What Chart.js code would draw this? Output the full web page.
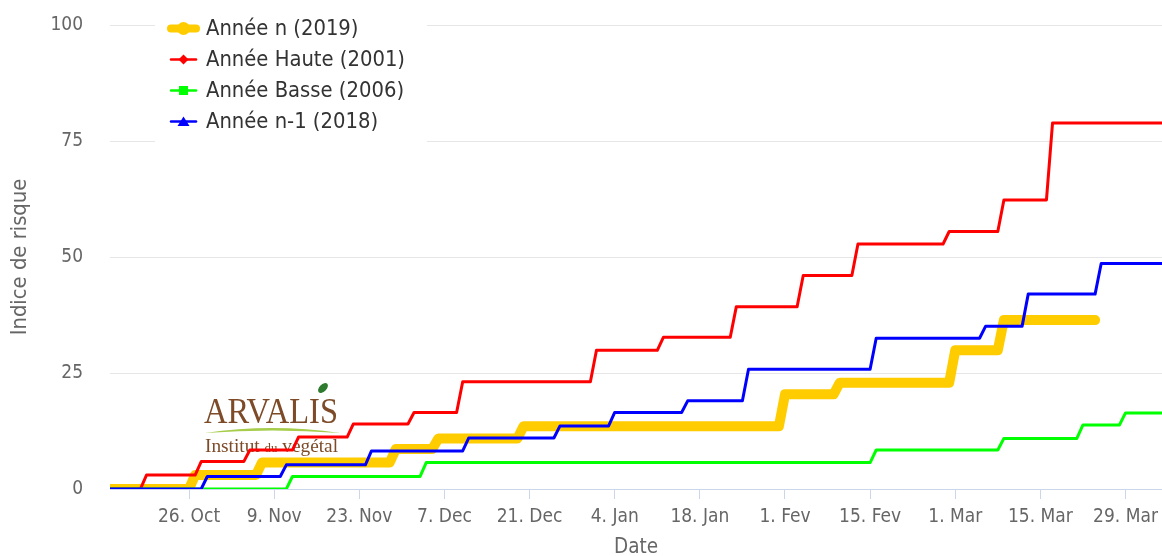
<!DOCTYPE html>
<html>
<head>
<meta charset="utf-8">
<script src="https://cdn.jsdelivr.net/npm/chart.js@4.4.1/dist/chart.umd.min.js"></script>
<style>
  html, body { margin: 0; padding: 0; background: #fff; }
  #wrap { width: 1162px; height: 556px; position: relative; }
</style>
</head>
<body>
<div id="wrap"><canvas id="chart"></canvas></div>
<script>
// axis range
const startDate = '2018-10-13';
const endDate = '2019-04-04';

// each series: dates where a new step starts, value held from that date
const nDates = ['2018-10-13', '2018-10-27', '2018-11-07', '2018-11-29', '2018-12-06', '2018-12-20', '2019-02-01', '2019-02-10', '2019-03-01', '2019-03-09'];
const nValues = [0, 3.0, 5.7, 8.6, 10.9, 13.5, 20.4, 22.9, 29.9, 36.4];
const nEnd = '2019-03-24';

const hauteDates = ['2018-10-13', '2018-10-19', '2018-10-28', '2018-11-05', '2018-11-13', '2018-11-22', '2018-12-02', '2018-12-10', '2019-01-01', '2019-01-12', '2019-01-24', '2019-02-04', '2019-02-13', '2019-02-28', '2019-03-09', '2019-03-17'];
const hauteValues = [0, 3.0, 5.9, 8.4, 11.2, 14.0, 16.5, 23.1, 29.9, 32.7, 39.3, 46.0, 52.8, 55.5, 62.3, 78.9];

const basseDates = ['2018-10-13', '2018-11-12', '2018-12-04', '2019-02-16', '2019-03-09', '2019-03-22', '2019-03-29'];
const basseValues = [0, 2.7, 5.7, 8.4, 10.9, 13.8, 16.4];

const prevDates = ['2018-10-13', '2018-10-29', '2018-11-11', '2018-11-25', '2018-12-11', '2018-12-26', '2019-01-04', '2019-01-16', '2019-01-26', '2019-02-16', '2019-03-06', '2019-03-13', '2019-03-25'];
const prevValues = [0, 2.7, 5.2, 8.2, 11.0, 13.6, 16.5, 19.0, 25.8, 32.5, 35.1, 42.0, 48.6];

const seriesLabels = ['Année n (2019)', 'Année Haute (2001)', 'Année Basse (2006)', 'Année n-1 (2018)'];
const seriesColors = ['#ffcc00', '#ff0000', '#00ff00', '#0000ff'];
const legendMarkers = ['circle', 'diamond', 'square', 'triangle'];

const tickDates = ['2018-10-26', '2018-11-09', '2018-11-23', '2018-12-07', '2018-12-21', '2019-01-04', '2019-01-18', '2019-02-01', '2019-02-15', '2019-03-01', '2019-03-15', '2019-03-29'];
const tickLabels = ['26. Oct', '9. Nov', '23. Nov', '7. Dec', '21. Dec', '4. Jan', '18. Jan', '1. Fev', '15. Fev', '1. Mar', '15. Mar', '29. Mar'];

const DAY = 86400000;
const t0 = Date.parse(startDate);
const toDay = d => (Date.parse(d) - t0) / DAY;

// value is held until the day before the next step, then jumps over one day
function steps(dates, values, end) {
  const pts = [];
  dates.forEach((d, i) => {
    const from = toDay(d);
    const to = i < dates.length - 1 ? toDay(dates[i + 1]) - 1 : toDay(end);
    pts.push({ x: from, y: values[i] });
    if (to > from) pts.push({ x: to, y: values[i] });
  });
  return pts;
}

const narrow = "'DejaVu Sans Condensed', 'DejaVu Sans'";

function drawMarker(ctx, type, x, y, color) {
  ctx.fillStyle = color;
  ctx.beginPath();
  if (type === 'circle') {
    ctx.arc(x, y, 6.5, 0, Math.PI * 2);
  } else if (type === 'diamond') {
    ctx.moveTo(x, y - 5); ctx.lineTo(x + 5, y); ctx.lineTo(x, y + 5); ctx.lineTo(x - 5, y);
  } else if (type === 'square') {
    ctx.rect(x - 4.5, y - 4.5, 9, 9);
  } else {
    ctx.moveTo(x, y - 5); ctx.lineTo(x + 6, y + 4.5); ctx.lineTo(x - 6, y + 4.5);
  }
  ctx.closePath();
  ctx.fill();
}

// legend sits inside the plot, top left, on a white box
const legendBox = {
  id: 'legendBox',
  afterDatasetsDraw(chart) {
    const ctx = chart.ctx;
    ctx.save();
    ctx.fillStyle = '#fff';
    ctx.fillRect(155, 10, 272, 136);
    seriesLabels.forEach((label, i) => {
      const y = 28.5 + i * 31;
      ctx.strokeStyle = seriesColors[i];
      ctx.lineWidth = i === 0 ? 8 : 2.5;
      ctx.lineCap = 'round';
      ctx.beginPath();
      ctx.moveTo(171, y);
      ctx.lineTo(196, y);
      ctx.stroke();
      drawMarker(ctx, legendMarkers[i], 183.5, y, seriesColors[i]);
      ctx.fillStyle = '#333';
      ctx.font = '21.8px ' + narrow;
      ctx.textBaseline = 'middle';
      ctx.fillText(label, 206, y + 1);
    });
    ctx.restore();
  }
};

// ARVALIS watermark under the lines
const logo = {
  id: 'logo',
  beforeDatasetsDraw(chart) {
    const ctx = chart.ctx;
    ctx.save();
    ctx.fillStyle = '#7d4b27';
    ctx.font = '36px "Liberation Serif"';
    ctx.textBaseline = 'alphabetic';
    const w = ctx.measureText('ARVALIS').width;
    ctx.save();
    ctx.translate(204, 423);
    ctx.scale(134 / w, 1);
    ctx.fillText('ARVALIS', 0, 0);
    ctx.restore();

    // leaf
    ctx.fillStyle = '#2e7a2e';
    ctx.beginPath();
    ctx.ellipse(323, 388, 6, 3.5, -Math.PI / 4, 0, Math.PI * 2);
    ctx.fill();

    // swoosh
    ctx.fillStyle = '#a6cc4a';
    ctx.beginPath();
    ctx.moveTo(205, 433);
    ctx.quadraticCurveTo(272, 423, 340, 433);
    ctx.quadraticCurveTo(272, 428, 205, 433);
    ctx.fill();

    // Institut du végétal
    ctx.fillStyle = '#7d4b27';
    const big = '18px "Liberation Serif"', small = '12px "Liberation Serif"';
    ctx.font = big;
    const w1 = ctx.measureText('Institut ').width;
    const w3 = ctx.measureText(' végétal').width;
    ctx.font = small;
    const w2 = ctx.measureText('du').width;
    const sx = 133 / (w1 + w2 + w3);
    ctx.translate(205, 452);
    ctx.scale(sx, 1);
    ctx.font = big;
    ctx.fillText('Institut ', 0, 0);
    ctx.font = small;
    ctx.fillText('du', w1, 0);
    ctx.font = big;
    ctx.fillText(' végétal', w1 + w2, 0);
    ctx.restore();
  }
};

const seriesPoints = [
  steps(nDates, nValues, nEnd),
  steps(hauteDates, hauteValues, endDate),
  steps(basseDates, basseValues, endDate),
  steps(prevDates, prevValues, endDate)
];

const datasets = seriesPoints.map((pts, i) => ({
  label: seriesLabels[i],
  data: pts,
  borderColor: seriesColors[i],
  backgroundColor: seriesColors[i],
  borderWidth: i === 0 ? 10 : 3,
  order: 3 - i,
  clip: 0,
  fill: false
}));

new Chart(document.getElementById('chart'), {
  type: 'line',
  data: { datasets: datasets },
  options: {
    responsive: true,
    maintainAspectRatio: false,
    animation: false,
    layout: { padding: { top: 25, right: 0, bottom: 0, left: 0 } },
    elements: {
      point: { radius: 0, hoverRadius: 0 },
      line: { tension: 0, borderJoinStyle: 'round', borderCapStyle: 'round' }
    },
    plugins: {
      legend: { display: false },
      tooltip: { enabled: false }
    },
    scales: {
      x: {
        type: 'linear',
        min: 0,
        max: toDay(endDate),
        afterBuildTicks: s => { s.ticks = tickDates.map(d => ({ value: toDay(d) })); },
        afterFit: s => { s.height = 67; s.paddingLeft = 0; s.paddingRight = 0; },
        grid: { drawOnChartArea: false, drawTicks: true, tickLength: 10, color: '#ccd6eb' },
        border: { color: '#ccd6eb', width: 1 },
        ticks: {
          padding: 7,
          color: '#666',
          autoSkip: false,
          maxRotation: 0,
          font: { family: narrow, size: 19 },
          callback: (v, i) => tickLabels[i]
        },
        title: { display: true, text: 'Date', color: '#666', font: { family: narrow, size: 20.5 }, padding: { top: 0, bottom: -4 } }
      },
      y: {
        min: 0,
        max: 100,
        afterFit: s => { s.width = 110; s.paddingTop = 0; s.paddingBottom = 0; },
        grid: { color: '#e6e6e6', drawTicks: false },
        border: { display: false },
        ticks: { stepSize: 25, padding: 27, color: '#666', font: { family: narrow, size: 19 } },
        title: { display: true, text: 'Indice de risque', color: '#666', font: { family: narrow, size: 21.8 }, padding: { top: 7 } }
      }
    }
  },
  plugins: [logo, legendBox]
});
</script>
</body>
</html>
